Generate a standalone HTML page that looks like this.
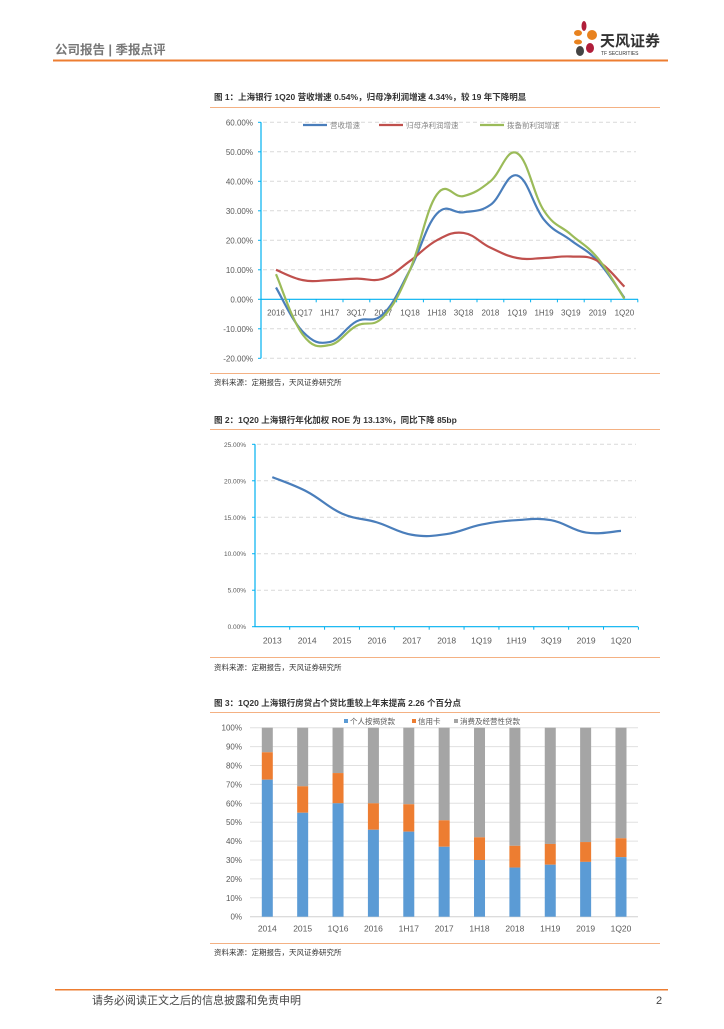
<!DOCTYPE html>
<html><head><meta charset="utf-8"><style>
body{margin:0;background:#fff;font-family:"Liberation Sans","Noto Sans CJK SC",sans-serif;}
svg text{font-family:"Liberation Sans","Noto Sans CJK SC",sans-serif;}
</style></head><body>
<svg id="pg" width="724" height="1024" viewBox="0 0 724 1024" xmlns="http://www.w3.org/2000/svg">
<g>
<text x="55" y="54" font-size="12.5" font-weight="bold" fill="#777">公司报告 | 季报点评</text>
<g>
<ellipse cx="578" cy="33" rx="4" ry="3" fill="#e8821e"/><ellipse cx="584" cy="26" rx="2.5" ry="5" fill="#b01e3a"/>
<ellipse cx="592" cy="35" rx="5" ry="5" fill="#e8821e"/><ellipse cx="578" cy="42" rx="4" ry="2.5" fill="#e8821e"/>
<ellipse cx="580" cy="51" rx="4" ry="5" fill="#444"/><ellipse cx="590" cy="48" rx="4" ry="5" fill="#b01e3a"/>
<text x="600" y="46" font-size="15" font-weight="bold" fill="#333">天风证券</text>
<text x="601" y="55" font-size="5" fill="#333">TF SECURITIES</text></g>
<rect x="53" y="59.5" width="615" height="2" fill="#ed7d31"/>
</g>
<g id="c1"></g>
<g id="c2"></g>
<g id="c3"></g>
<g>
<rect x="55" y="989" width="613" height="1.5" fill="#ed7d31"/>
<text x="92" y="1004" font-size="11" fill="#444">请务必阅读正文之后的信息披露和免责申明</text>
<text x="656" y="1004" font-size="11" fill="#444">2</text>
</g>
</svg>
<script>
// Chart 1 data
const c1Cats=["2016","1Q17","1H17","3Q17","2017","1Q18","1H18","3Q18","2018","1Q19","1H19","3Q19","2019","1Q20"];
const c1Rev=[4,-11,-14.5,-7.5,-5,10,29,29.5,32,42,27,20,13,0.5];
const c1Net=[10,6.5,6.5,7,7,13,20,22.5,17.5,14,14,14.5,13,4.3];
const c1Ppop=[8.5,-12,-15.5,-9,-6,10,35.5,35,40,49.5,30,22,14,0.2];
const c1Ticks=[60,50,40,30,20,10,0,-10,-20];
// Chart 2 data
const c2Cats=["2013","2014","2015","2016","2017","2018","1Q19","1H19","3Q19","2019","1Q20"];
const c2Roe=[20.5,18.5,15.5,14.3,12.6,12.7,14,14.6,14.6,12.9,13.13];
const c2Ticks=[25,20,15,10,5,0];
// Chart 3 data
const c3Cats=["2014","2015","1Q16","2016","1H17","2017","1H18","2018","1H19","2019","1Q20"];
const c3Mortgage=[72.5,55,60,46,45,37,30,26,27.5,29,31.5];
const c3Card=[14.5,14,16,14,14.5,14,12,11.5,11,10.5,10];
const c3Ticks=[100,90,80,70,60,50,40,30,20,10,0];

const NS="http://www.w3.org/2000/svg";
function mk(p,t,a,txt){const e=document.createElementNS(NS,t);for(const k in a)e.setAttribute(k,a[k]);if(txt!==undefined)e.textContent=txt;p.appendChild(e);return e;}
function smooth(pts){let d="M"+pts[0][0]+","+pts[0][1];for(let i=0;i<pts.length-1;i++){const p0=pts[i-1]||pts[i],p1=pts[i],p2=pts[i+1],p3=pts[i+2]||p2;const t=0.2;d+=" C"+(p1[0]+(p2[0]-p0[0])*t)+","+(p1[1]+(p2[1]-p0[1])*t)+" "+(p2[0]-(p3[0]-p1[0])*t)+","+(p2[1]-(p3[1]-p1[1])*t)+" "+p2[0]+","+p2[1];}return d;}
function frame(g,title,ty,ly,sy,sly){
 let e=mk(g,"text",{x:214,y:ty,"font-size":"8.5","font-weight":"bold",fill:"#333"},title);
 
 mk(g,"rect",{x:210,y:ly,width:450,height:1,fill:"#f4b183"});
 mk(g,"rect",{x:210,y:sly,width:450,height:1,fill:"#f4b183"});
 e=mk(g,"text",{x:214,y:sy,"font-size":"7.5",fill:"#333"},"资料来源：定期报告，天风证券研究所");
 
}
// ---- Chart 1
(function(){const g=document.getElementById("c1");
frame(g,"图 1：上海银行 1Q20 营收增速 0.54%，归母净利润增速 4.34%，较 19 年下降明显",100,107,385,373);
const y=v=>299.3-v*2.95, x=i=>276+i*26.8;
c1Ticks.forEach(t=>{if(t!==0)mk(g,"line",{x1:263,x2:636,y1:y(t),y2:y(t),stroke:"#d9d9d9","stroke-dasharray":"4,3"});
 const e=mk(g,"text",{x:253,y:y(t)+3,"font-size":"8","text-anchor":"end",fill:"#595959"},t.toFixed(2)+"%");
 mk(g,"line",{x1:258,x2:261,y1:y(t),y2:y(t),stroke:"#00b0f0"});});
mk(g,"line",{x1:261,x2:261,y1:y(60),y2:y(-20),stroke:"#00b0f0","stroke-width":1.2});
mk(g,"line",{x1:261,x2:638,y1:y(0),y2:y(0),stroke:"#00b0f0","stroke-width":1.2});
c1Cats.forEach((c,i)=>{mk(g,"line",{x1:x(i)+13.4,x2:x(i)+13.4,y1:y(0),y2:y(0)+3,stroke:"#00b0f0"});
 const e=mk(g,"text",{x:x(i),y:y(0)+16,"font-size":"8","text-anchor":"middle",fill:"#595959"},c);});
[[c1Rev,"#4a7ebb","revenue-growth-line"],[c1Net,"#c0504d","net-profit-growth-line"],[c1Ppop,"#9bbb59","ppop-growth-line"]].forEach(s=>{
 const p=mk(g,"path",{d:smooth(s[0].map((v,i)=>[x(i),y(v)])),fill:"none",stroke:s[1],"stroke-width":2.2});
 });
[[303,"营收增速","#4a7ebb"],[379,"归母净利润增速","#c0504d"],[480,"拨备前利润增速","#9bbb59"]].forEach(l=>{
 const lg=mk(g,"g",{});
 mk(lg,"line",{x1:l[0],x2:l[0]+24,y1:125,y2:125,stroke:l[2],"stroke-width":2.2});
 mk(lg,"text",{x:l[0]+27,y:128,"font-size":"7.5",fill:"#888"},l[1]);});
})();
// ---- Chart 2
(function(){const g=document.getElementById("c2");
frame(g,"图 2：1Q20 上海银行年化加权 ROE 为 13.13%，同比下降 85bp",423,429,670,657);
const y=v=>626.7-v*7.296, x=i=>272.3+i*34.87;
c2Ticks.forEach(t=>{if(t!==0)mk(g,"line",{x1:257,x2:636,y1:y(t),y2:y(t),stroke:"#d9d9d9","stroke-dasharray":"4,3"});
 const e=mk(g,"text",{x:246,y:y(t)+2.5,"font-size":"6.5","text-anchor":"end",fill:"#595959"},t.toFixed(2)+"%");
 mk(g,"line",{x1:252,x2:255,y1:y(t),y2:y(t),stroke:"#00b0f0"});});
mk(g,"line",{x1:255,x2:255,y1:y(25),y2:y(0),stroke:"#00b0f0","stroke-width":1.2});
mk(g,"line",{x1:255,x2:638,y1:y(0),y2:y(0),stroke:"#00b0f0","stroke-width":1.2});
c2Cats.forEach((c,i)=>{mk(g,"line",{x1:x(i)+17.4,x2:x(i)+17.4,y1:y(0),y2:y(0)+3,stroke:"#00b0f0"});
 const e=mk(g,"text",{x:x(i),y:y(0)+17,"font-size":"8.5","text-anchor":"middle",fill:"#595959"},c);});
const p=mk(g,"path",{d:smooth(c2Roe.map((v,i)=>[x(i),y(v)])),fill:"none",stroke:"#4a7ebb","stroke-width":2.2});

})();
// ---- Chart 3
(function(){const g=document.getElementById("c3");
frame(g,"图 3：1Q20 上海银行房贷占个贷比重较上年末提高 2.26 个百分点",706,712,955,943);
const y=v=>916.7-v*1.89, x=i=>267.3+i*35.37;
c3Ticks.forEach(t=>{mk(g,"line",{x1:250,x2:638,y1:y(t),y2:y(t),stroke:t?"#e0e0e0":"#d0d0d0"});
 const e=mk(g,"text",{x:242,y:y(t)+3,"font-size":"8","text-anchor":"end",fill:"#595959"},t+"%");});
c3Cats.forEach((c,i)=>{const m=c3Mortgage[i],k=c3Card[i],bw=11,bx=x(i)-bw/2;
 let r=mk(g,"rect",{x:bx,y:y(100),width:bw,height:y(m+k)-y(100),fill:"#a5a5a5"});
 r=mk(g,"rect",{x:bx,y:y(m+k),width:bw,height:y(m)-y(m+k),fill:"#ed7d31"});
 r=mk(g,"rect",{x:bx,y:y(m),width:bw,height:y(0)-y(m),fill:"#5b9bd5"});
 const e=mk(g,"text",{x:x(i),y:y(0)+15,"font-size":"8.5","text-anchor":"middle",fill:"#595959"},c);});
[[344,"个人按揭贷款","#5b9bd5"],[412,"信用卡","#ed7d31"],[454,"消费及经营性贷款","#a5a5a5"]].forEach(l=>{
 const lg=mk(g,"g",{});
 mk(lg,"rect",{x:l[0],y:719,width:4,height:4,fill:l[2]});
 mk(lg,"text",{x:l[0]+6,y:724,"font-size":"7.5",fill:"#595959"},l[1]);});
})();
</script>
</body></html>
